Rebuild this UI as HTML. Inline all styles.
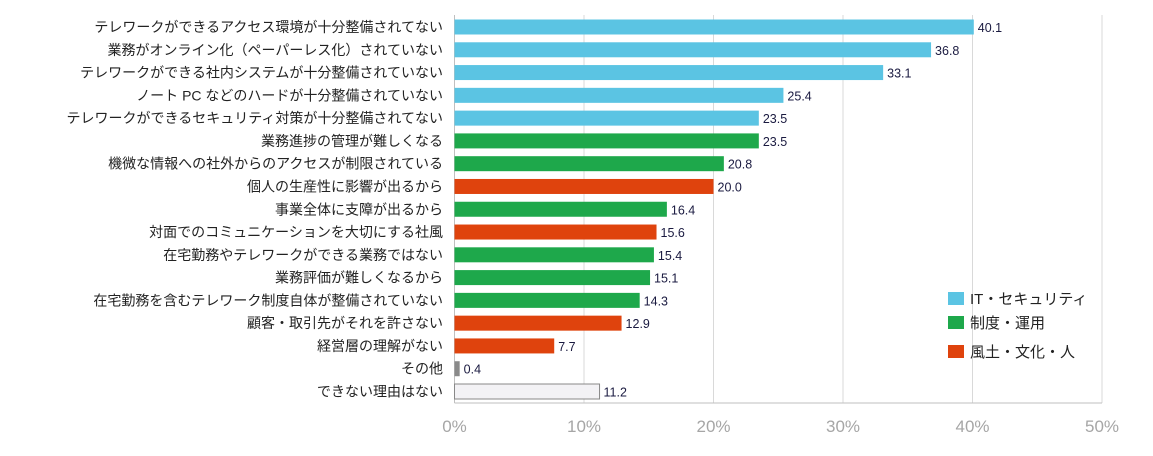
<!DOCTYPE html>
<html><head><meta charset="utf-8">
<style>
html,body{margin:0;padding:0;background:#fff;}
svg text{font-family:"Liberation Sans","Noto Sans CJK JP",sans-serif;}
</style></head>
<body>
<svg id="chart" width="1153" height="451" xmlns="http://www.w3.org/2000/svg"></svg>
<script>
const categories = ["テレワークができるアクセス環境が十分整備されてない","業務がオンライン化（ペーパーレス化）されていない","テレワークができる社内システムが十分整備されていない","ノート PC などのハードが十分整備されていない","テレワークができるセキュリティ対策が十分整備されてない","業務進捗の管理が難しくなる","機微な情報への社外からのアクセスが制限されている","個人の生産性に影響が出るから","事業全体に支障が出るから","対面でのコミュニケーションを大切にする社風","在宅勤務やテレワークができる業務ではない","業務評価が難しくなるから","在宅勤務を含むテレワーク制度自体が整備されていない","顧客・取引先がそれを許さない","経営層の理解がない","その他","できない理由はない"];
const values = [40.1,36.8,33.1,25.4,23.5,23.5,20.8,20.0,16.4,15.6,15.4,15.1,14.3,12.9,7.7,0.4,11.2];
const groups = ["it","it","it","it","it","sys","sys","cul","sys","cul","sys","sys","sys","cul","cul","other","none"];
const xTicks = [0,10,20,30,40,50];
const legendLabels = ["IT・セキュリティ","制度・運用","風土・文化・人"];
const legendGroups = ["it","sys","cul"];

const colors = {it:"#5bc4e3",sys:"#1ea84b",cul:"#df430d",other:"#8a8a8a",none:"#f3f2f5"};
const svgEl = document.getElementById('chart');
const NS = "http://www.w3.org/2000/svg";
const x0=454.5, x1=1102, xMax=50, plotTop=15, plotBottom=403;
const xs = v => x0 + v/xMax*(x1-x0);
const rowStep = (391.5-27)/16;
const yc = i => 27 + i*rowStep;
const barH = 15;
function mk(tag, attrs){const e=document.createElementNS(NS,tag);for(const k in attrs)e.setAttribute(k,attrs[k]);svgEl.appendChild(e);return e;}

xTicks.forEach((t)=>{
  if(t>0){const g=mk('line',{x1:xs(t),x2:xs(t),y1:plotTop,y2:plotBottom,stroke:'#d9d9d9','stroke-width':1});
  
  }
  const tx=mk('text',{x:xs(t),y:432,'text-anchor':'middle','font-size':17,fill:'#a6a6a6'});
  tx.textContent=t+'%';
  
  
});
const ax=mk('line',{x1:x0,x2:x0,y1:plotTop,y2:plotBottom,stroke:'#bfbfbf','stroke-width':1});


const bx=mk('line',{x1:x0,x2:x1,y1:plotBottom,y2:plotBottom,stroke:'#bfbfbf','stroke-width':1});



categories.forEach((c,i)=>{
  const y=yc(i);
  const lab=mk('text',{x:443,y:y+5,'text-anchor':'end','font-size':14,fill:'#222'});
  lab.textContent=c;
  
  
  const g=groups[i];
  const r=mk('rect',{x:x0,y:y-barH/2,width:xs(values[i])-x0,height:barH,fill:colors[g]});
  if(g==='none'){r.setAttribute('stroke','#888');r.setAttribute('stroke-width','1');}
  
  
  const v=mk('text',{x:xs(values[i])+4,y:y+5,'font-size':12.5,fill:'#1a1a40'});
  v.textContent=values[i].toFixed(1);
  
  
});

const legY=[298,322,351];
legendLabels.forEach((l,i)=>{
  const r=mk('rect',{x:948,y:legY[i]-6,width:16,height:13,fill:colors[legendGroups[i]]});
  
  
  const t=mk('text',{x:970,y:legY[i]+6,'font-size':15,fill:'#222'});
  t.textContent=l;
  
  
});
</script>
</body></html>
